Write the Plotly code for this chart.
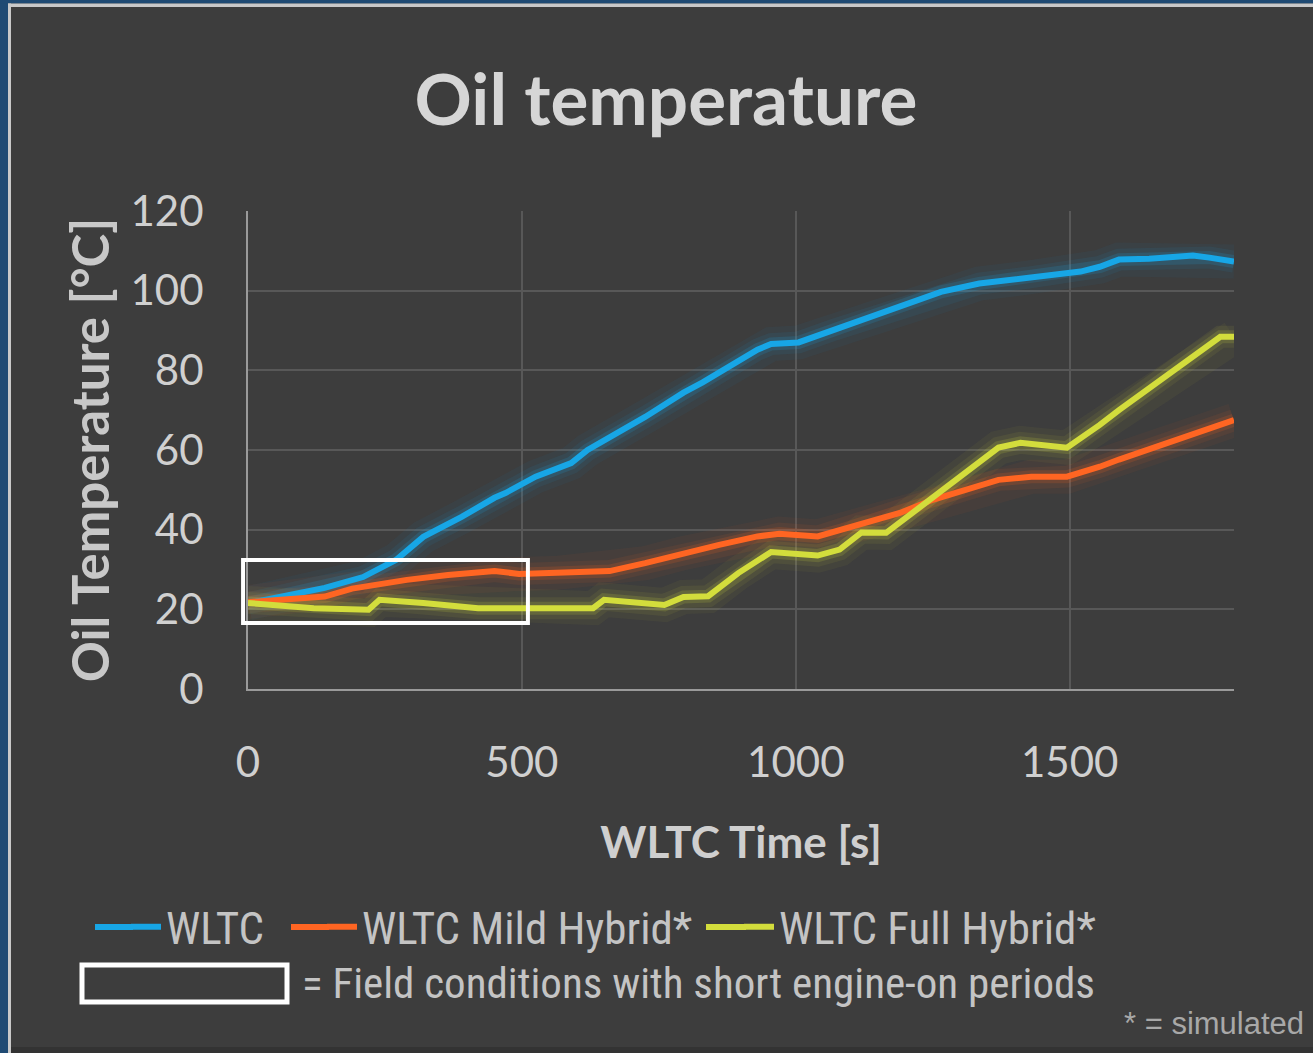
import plotly.graph_objects as go

# ---------------- data ----------------
wltc_t = [0, 140, 210, 270, 320, 390, 450, 470, 525, 590, 620, 725, 795, 830, 930, 955,
          1005, 1070, 1130, 1220, 1265, 1335, 1425, 1480, 1520, 1555, 1590, 1645, 1725, 1755, 1800]
wltc_T = [21.5, 25.4, 28.1, 32.4, 38.2, 43.2, 48.0, 49.2, 53.3, 56.7, 60.0, 68.3, 74.4, 77.0, 85.2, 86.6,
          87.0, 90.2, 93.0, 97.7, 99.7, 101.8, 103.3, 104.0, 104.8, 106.0, 107.8, 108.0, 108.8, 108.3, 107.3]

mild_t = [0, 140, 190, 290, 365, 450, 495, 560, 660, 725, 795, 860, 930, 970, 1040, 1085,
          1130, 1190, 1250, 1370, 1430, 1495, 1555, 1590, 1800]
mild_T = [21.8, 23.2, 25.2, 27.4, 28.6, 29.6, 28.9, 29.1, 29.6, 31.6, 34.1, 36.2, 38.3, 39.0, 38.3, 40.0,
          42.0, 44.2, 47.5, 52.5, 53.3, 53.3, 55.8, 57.6, 67.5]

full_t = [0, 120, 220, 240, 320, 420, 630, 650, 760, 795, 840, 895, 955, 1040, 1080, 1120,
          1165, 1370, 1410, 1495, 1555, 1590, 1775, 1800]
full_T = [21.6, 20.3, 19.9, 22.4, 21.6, 20.3, 20.3, 22.4, 21.1, 23.1, 23.3, 29.1, 34.4, 33.5, 35.0, 39.3,
          39.2, 60.6, 61.8, 60.6, 66.3, 70.0, 88.4, 88.4]

series_names = ["WLTC", "WLTC Mild Hybrid*", "WLTC Full Hybrid*"]
x_ticks = [0, 500, 1000, 1500]
y_ticks = [0, 20, 40, 60, 80, 100, 120]
X_RANGE = [0, 1800]
Y_RANGE = [0, 120]
field_box_t = [-9, 511]      # highlighted "field conditions" window (time)
field_box_T = [16.6, 32.4]   # highlighted window (temperature)

# ---------------- styling ----------------
BG = "#3d3d3d"
BORDER_BLUE = "#1f4a73"
TXT = "#d6d6d6"
colors = ["#17a6e6", "#ff6522", "#d3dd3c"]
glow = ["rgba(23,166,230,{a})", "rgba(255,101,34,{a})", "rgba(211,221,60,{a})"]
NARROW = "Liberation Sans Narrow, Roboto Condensed, Arial Narrow, sans-serif"

W, H = 1313, 1053
L, R, T, B = 248, 79, 211, 364
PW, PH = W - L - R, H - T - B


def px(x):
    return (x - L) / PW


def py(y):
    return (H - B - y) / PH


def t_to_paper(t):
    return (t - X_RANGE[0]) / (X_RANGE[1] - X_RANGE[0])


fig = go.Figure()
data = [(wltc_t, wltc_T), (mild_t, mild_T), (full_t, full_T)]

# glow layers
for i, (t, v) in enumerate(data):
    for wdt, a in [(34, 0.05), (22, 0.08), (13, 0.16)]:
        fig.add_trace(go.Scatter(x=t, y=v, mode="lines", showlegend=False, hoverinfo="skip",
                                 line=dict(color=glow[i].format(a=a), width=wdt)))

legend_ids = ["legend", "legend2", "legend3"]
for i, (t, v) in enumerate(data):
    fig.add_trace(go.Scatter(x=t, y=v, mode="lines", name=series_names[i], legend=legend_ids[i],
                             line=dict(color=colors[i], width=6)))

# legend entry placement (text start pixel, key line start pixel)
legend_text_x = [167, 363, 780]
legend_key_x0 = [92, 288, 703]
LEG_Y = 927

shapes = [
    # field-condition box in the plot (x in paper so the left edge is not clipped)
    dict(type="rect", xref="paper", yref="y", x0=t_to_paper(field_box_t[0]), x1=t_to_paper(field_box_t[1]),
         y0=field_box_T[0], y1=field_box_T[1], line=dict(color="white", width=4),
         fillcolor="rgba(0,0,0,0)", layer="above"),
    # frame: blue border and light inner line
    dict(type="rect", xref="paper", yref="paper", x0=px(0), x1=px(8), y0=py(H), y1=py(0),
         fillcolor=BORDER_BLUE, line=dict(width=0), layer="below"),
    dict(type="rect", xref="paper", yref="paper", x0=px(0), x1=px(W), y0=py(3.5), y1=py(0),
         fillcolor=BORDER_BLUE, line=dict(width=0), layer="below"),
    dict(type="rect", xref="paper", yref="paper", x0=px(8), x1=px(11), y0=py(H), y1=py(3.5),
         fillcolor="#c9c9c9", line=dict(width=0), layer="below"),
    dict(type="rect", xref="paper", yref="paper", x0=px(8), x1=px(W), y0=py(7), y1=py(3.5),
         fillcolor="#c9c9c9", line=dict(width=0), layer="below"),
    dict(type="rect", xref="paper", yref="paper", x0=px(11), x1=px(W), y0=py(H), y1=py(1047),
         fillcolor="#333333", line=dict(width=0), layer="below"),
    # legend key box for field conditions
    dict(type="rect", xref="paper", yref="paper", x0=px(82), x1=px(287), y0=py(1002), y1=py(965),
         line=dict(color="white", width=5), fillcolor="rgba(0,0,0,0)"),
]
# lengthen the legend key lines to the reference length
for i in range(3):
    shapes.append(dict(type="line", xref="paper", yref="paper",
                       x0=px(legend_key_x0[i] + 3), x1=px(legend_text_x[i] - 34),
                       y0=py(LEG_Y), y1=py(LEG_Y),
                       line=dict(color=colors[i], width=6)))

annotations = [
    dict(text="= Field conditions with short engine-on periods", xref="paper", yref="paper",
         x=px(300), y=py(983), xanchor="left", yanchor="middle", showarrow=False,
         font=dict(family=NARROW, size=43, color="#c4c4c4")),
    dict(text="* = simulated", xref="paper", yref="paper",
         x=px(1306), y=py(1023), xanchor="right", yanchor="middle", showarrow=False,
         font=dict(family="Liberation Sans, Arial, sans-serif", size=31, color="#a8a8a8")),
]

legend_common = dict(orientation="h", yanchor="middle", y=py(LEG_Y), xanchor="left",
                     bgcolor="rgba(0,0,0,0)", font=dict(family=NARROW, size=45, color="#c4c4c4"))

fig.update_layout(
    width=W, height=H,
    margin=dict(l=L, r=R, t=T, b=B, pad=0),
    paper_bgcolor=BG, plot_bgcolor=BG,
    title=dict(text="<b>Oil temperature</b>", xref="container", x=666 / W, xanchor="center",
               y=1 - 100 / H, yanchor="middle",
               font=dict(family="Lato, sans-serif", size=71, color=TXT)),
    xaxis=dict(range=X_RANGE, tickvals=x_ticks, showgrid=True, gridcolor="#585858", gridwidth=2,
               zeroline=False, showline=True, linecolor="#9a9a9a", linewidth=2,
               ticks="", ticklabelstandoff=36,
               tickfont=dict(family="Lato, sans-serif", size=42, color="#d0d0d0"),
               title=dict(text="<b>WLTC Time [s]</b>", standoff=42,
                          font=dict(family="Lato, sans-serif", size=44, color="#cfcfcf"))),
    yaxis=dict(range=Y_RANGE, tickvals=y_ticks, showgrid=True, gridcolor="#585858", gridwidth=2,
               zeroline=False, showline=True, linecolor="#9a9a9a", linewidth=2,
               ticks="", ticklabelstandoff=34,
               tickfont=dict(family="Lato, sans-serif", size=42, color="#d0d0d0"),
               title=dict(text="<b>Oil Temperature [°C]</b>", standoff=5,
                          font=dict(family="Lato, sans-serif", size=51, color="#c8c8c8"))),
    legend=dict(x=px(legend_text_x[0] - 41), **legend_common),
    legend2=dict(x=px(legend_text_x[1] - 41), **legend_common),
    legend3=dict(x=px(legend_text_x[2] - 41), **legend_common),
    shapes=shapes,
    annotations=annotations,
)

fig.write_html("out.html", config={"displayModeBar": False},
               post_script="document.body.style.margin='0';")
